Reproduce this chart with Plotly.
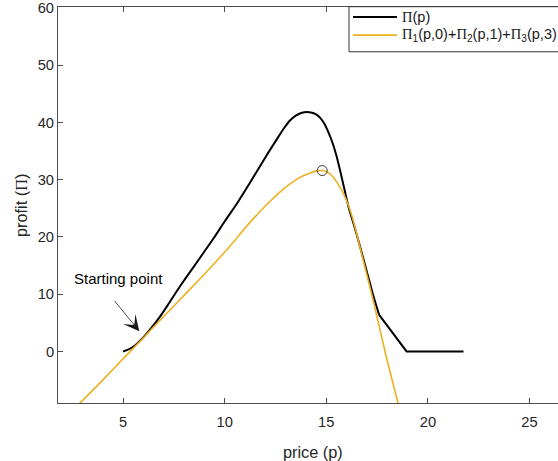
import plotly.graph_objects as go

# Total profit Π(p) against price
black_x = [5.0, 5.3, 5.6, 5.9, 6.2, 6.5, 6.8, 7.2, 7.6, 8.0, 8.5, 8.95, 9.5, 10.0,
           10.67, 11.25, 12.0, 12.5, 12.9, 13.2, 13.5, 13.8, 14.05, 14.3, 14.5, 14.7,
           14.9, 15.1, 15.3, 15.5, 15.7, 15.9, 16.1, 16.4, 16.7, 17.0, 17.3, 17.6,
           18.95, 21.75]
black_y = [0.0, 0.4, 1.1, 2.1, 3.3, 4.6, 6.0, 8.1, 10.3, 12.4, 14.9, 17.2, 20.0, 22.7,
           26.2, 29.5, 33.9, 36.7, 38.9, 40.3, 41.2, 41.7, 41.85, 41.7, 41.4, 40.8,
           39.8, 38.3, 36.5, 34.2, 31.3, 28.2, 25.2, 21.6, 17.8, 13.9, 9.9, 6.4,
           0.0, 0.0]
KNEE = 37  # index where the smooth part ends and the straight segments begin

# Sum of the three component profits
orange_x = [2.8, 4.0, 5.0, 6.0, 7.0, 8.0, 9.0, 9.86, 10.5, 11.16, 12.0, 12.8, 13.6,
            14.3, 14.55, 14.8, 15.05, 15.3, 15.55, 15.84, 16.1, 16.33, 16.82, 17.31,
            17.89, 18.6]
orange_y = [-9.3, -5.0, -1.3, 2.4, 6.1, 9.8, 13.5, 16.8, 19.4, 22.2, 25.4, 28.1, 30.2,
            31.3, 31.55, 31.6, 31.35, 30.6, 29.4, 27.6, 25.4, 22.8, 15.9, 8.9,
            0.0, -10.0]

# Optimum of the summed curve
opt_x = [14.8]
opt_y = [31.6]

x_ticks = [5, 10, 15, 20, 25]
y_ticks = [0, 10, 20, 30, 40, 50, 60]

PI = "<span style='font-family:Liberation Serif'>Π</span>"
legend_names = [PI + "(p)",
                PI + "<sub>1</sub>(p,0)+" + PI + "<sub>2</sub>(p,1)+" + PI + "<sub>3</sub>(p,3)"]

BLACK = "#000000"
ORANGE = "#EDB120"
AXIS = "#4d4d4d"
TEXT = "#262626"
FONT = "Liberation Sans"

W, H = 558, 461
ML, MR, MT, MB = 58, 0, 5, 58
PW, PH = W - ML - MR, H - MT - MB


def px_to_paper(px, py):
    return (px - ML) / PW, (H - MB - py) / PH


fig = go.Figure()
fig.add_trace(go.Scatter(x=black_x[:KNEE + 1], y=black_y[:KNEE + 1], mode="lines",
                         line=dict(color=BLACK, width=2, shape="spline", smoothing=0.8),
                         showlegend=False))
fig.add_trace(go.Scatter(x=black_x[KNEE:], y=black_y[KNEE:], mode="lines",
                         line=dict(color=BLACK, width=2), showlegend=False))
fig.add_trace(go.Scatter(x=orange_x, y=orange_y, mode="lines",
                         line=dict(color=ORANGE, width=1.6, shape="spline", smoothing=0.8),
                         showlegend=False))
fig.add_trace(go.Scatter(x=opt_x, y=opt_y, mode="markers",
                         marker=dict(symbol="circle-open", size=10, color="#3c3c3c",
                                     line=dict(color="#3c3c3c", width=1)),
                         showlegend=False))

axis_common = dict(showgrid=False, zeroline=False, showline=True, linecolor=AXIS,
                   linewidth=1, ticks="inside", ticklen=5, tickwidth=1, tickcolor=AXIS,
                   ticklabeloverflow="allow",
                   tickfont=dict(family=FONT, size=14.7, color=TEXT))

fig.update_xaxes(range=[1.8, 26.4], tickvals=x_ticks, mirror="ticks",
                 ticklabelstandoff=5, **axis_common)
fig.update_yaxes(range=[-9.0, 60.17], tickvals=y_ticks, mirror=False, **axis_common)

annotations = []
# axis labels
annotations.append(dict(text="price (p)", xref="paper", yref="paper",
                        x=px_to_paper(313, 0)[0], y=px_to_paper(0, 452)[1],
                        showarrow=False, xanchor="center", yanchor="middle",
                        font=dict(family=FONT, size=16.3, color=TEXT)))
annotations.append(dict(text="profit (" + PI + ")",
                        xref="paper", yref="paper",
                        x=px_to_paper(22, 0)[0], y=px_to_paper(0, 205)[1],
                        showarrow=False, textangle=-90, xanchor="center", yanchor="middle",
                        font=dict(family=FONT, size=16.3, color=TEXT)))
# starting point note
annotations.append(dict(text="Starting point", x=4.77, y=12.7, xref="x", yref="y",
                        showarrow=False, xanchor="center", yanchor="middle",
                        font=dict(family=FONT, size=15, color=BLACK)))
annotations.append(dict(text="", x=5.8, y=3.55, xref="x", yref="y",
                        ax=4.52, ay=9.1, axref="x", ayref="y",
                        showarrow=True, arrowhead=3, arrowsize=3.3, arrowwidth=0.8,
                        arrowcolor="#1a1a1a", standoff=0))

# legend box
lx0, ly0 = px_to_paper(349, 50)
lx1, ly1 = px_to_paper(600, 4.7)
shapes = [dict(type="rect", xref="paper", yref="paper", x0=lx0, x1=lx1, y0=ly0, y1=ly1,
               fillcolor="white", line=dict(color="#333333", width=1), layer="above")]
entry_y = [15, 33.3]
entry_col = [BLACK, ORANGE]
entry_w = [2, 1.6]
for name, ey, col, lw in zip(legend_names, entry_y, entry_col, entry_w):
    sx0, sy = px_to_paper(353, ey)
    sx1, _ = px_to_paper(397, ey)
    shapes.append(dict(type="line", xref="paper", yref="paper", x0=sx0, x1=sx1,
                       y0=sy, y1=sy, line=dict(color=col, width=lw), layer="above"))
    tx, _ = px_to_paper(400, ey)
    annotations.append(dict(text=name, xref="paper", yref="paper", x=tx, y=sy,
                            showarrow=False, xanchor="left", yanchor="middle",
                            font=dict(family=FONT, size=14.5, color="#1a1a1a")))

fig.update_layout(width=W, height=H, margin=dict(l=ML, r=MR, t=MT, b=MB, pad=0),
                  paper_bgcolor="white", plot_bgcolor="white",
                  annotations=annotations, shapes=shapes)

fig.write_html("out.html")
